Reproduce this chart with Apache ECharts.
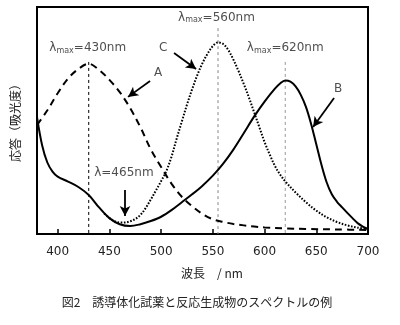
<!DOCTYPE html>
<html><head><meta charset="utf-8">
<script src="https://cdn.jsdelivr.net/npm/echarts@6/dist/echarts.min.js"></script>
<style>html,body{margin:0;padding:0;background:#fff}#c{width:400px;height:325px}</style>
</head><body><div id="c"></div>
<script>
// ---- data ----
const xTicks = [400, 450, 500, 550, 600, 650, 700];
const curveA = [[380,48],[390,54.5],[400,62],[410,68.5],[420,72.7],[430,75],[440,72.3],[450,67.9],[460,62.5],[470,55.5],[480,47],[490,37.3],[500,29.5],[510,22.2],[520,16.4],[530,12.2],[540,8.8],[550,6.5],[560,5.3],[570,4.4],[580,3.8],[590,3.3],[600,2.9],[620,2.5],[640,2.2],[670,2.0],[700,1.8]];
const curveB = [[380,51.5],[385,39],[390,31.5],[395,27.5],[400,25.3],[410,23.1],[420,20.7],[430,17.2],[440,11.7],[450,7],[460,4.3],[470,3.5],[480,4.3],[490,5.7],[500,7.6],[510,10.5],[520,14],[530,17.5],[540,21.3],[550,25.7],[560,31],[570,37.3],[580,44.5],[590,51.8],[600,58.3],[610,64],[615,66.3],[620,67.6],[625,67.1],[630,65],[635,61.3],[640,56],[645,48.5],[650,39.5],[655,30.5],[660,22.8],[665,17.5],[670,14.2],[675,11.7],[680,9.3],[685,7],[690,4.8],[695,3.3],[700,2.2]];
const curveC = [[445,9],[450,7],[455,5.6],[460,5.1],[465,5.1],[470,5.6],[475,6.6],[480,8.4],[485,11.4],[490,15.2],[495,19.2],[500,23.3],[505,27.7],[510,34],[515,42],[520,49.5],[525,57],[530,63.8],[535,70],[540,75.3],[545,79.5],[550,82.8],[555,84.4],[560,83.7],[565,81],[570,76.7],[575,71.6],[580,66],[585,60],[590,53.5],[595,47],[600,40.5],[605,35],[610,30],[615,26.2],[620,23.2],[630,18.3],[640,14],[650,10.3],[660,7.4],[670,5.3],[680,3.8],[690,2.8],[700,2.2]];
const guideX = [430, 555, 620];
const guideTop = [75.8, 90.7, 75.8];
const peakLabels = ['430nm', '560nm', '620nm'];
const peakLabelPos = [[429, 81.9], [553.5, 95.2], [620, 81.9]];
const minLabel = '465nm';
const minLabelPos = [464, 26.9];
const curveNames = ['A', 'B', 'C'];
const curveNamePos = [[497, 70.9], [671, 63.9], [502, 81.9]];
const arrows = [
  [[489.3, 67.4], [468, 60.4]],
  [[667.2, 59.9], [646.9, 47.1]],
  [[512.5, 79.7], [533.8, 72.7]],
  [[465.1, 19.4], [465.1, 7.9]]
];
const xName = '波長\u3000/ nm';
const yName = '応答（吸光度）';
const caption = '図2\u3000誘導体化試薬と反応生成物のスペクトルの例';

// ---- chart ----
const FONT = '"DejaVu Sans", "Noto Sans CJK JP", sans-serif';
const CJK = '"Noto Sans CJK JP", "DejaVu Sans", sans-serif';
const chart = echarts.init(document.getElementById('c'), null, {renderer: 'canvas'});
const rich = {
  l: {fontSize: 12, fontFamily: FONT, color: '#222'},
  s: {fontSize: 8, fontFamily: FONT, color: '#222', verticalAlign: 'bottom', padding: [5, 0, 0, 0]},
  n: {fontSize: 12, fontFamily: FONT, color: '#222'}
};
const labelData = [];
peakLabels.forEach((t, i) => labelData.push({value: peakLabelPos[i], label: {formatter: '{l|λ}{s|max}{n|=' + t + '}'}}));
labelData.push({value: minLabelPos, label: {formatter: '{n|λ=' + minLabel + '}'}});
curveNames.forEach((t, i) => labelData.push({value: curveNamePos[i], label: {formatter: '{n|' + t + '}'}}));

const guideStyles = [
  {color: '#000', width: 1, type: [3, 3]},
  {color: '#888', width: 1, type: [3, 3]},
  {color: '#999', width: 1, type: [3, 3]}
];
const guideSeries = guideX.map((x, i) => ({
  type: 'line', data: [[x, guideTop[i]], [x, 0]], symbol: 'none', silent: true,
  lineStyle: guideStyles[i], z: 1
}));

chart.setOption({
  animation: false,
  grid: {left: 37, right: 32, top: 7, bottom: 91, show: true, borderColor: '#000', borderWidth: 2, backgroundColor: 'transparent'},
  xAxis: {
    type: 'value', min: 380, max: 700,
    axisLine: {show: true, lineStyle: {color: '#000', width: 2}},
    axisTick: {show: true, inside: true, length: 5, customValues: xTicks, lineStyle: {color: '#000', width: 1.5}},
    axisLabel: {customValues: xTicks, color: '#222', fontSize: 12, fontFamily: FONT, margin: 12},
    splitLine: {show: false}
  },
  yAxis: {
    type: 'value', min: 0, max: 100,
    axisLine: {show: true, lineStyle: {color: '#000', width: 2}},
    axisTick: {show: false}, axisLabel: {show: false}, splitLine: {show: false}
  },
  series: [
    ...guideSeries,
    {type: 'line', data: curveA, smooth: 0.35, symbol: 'none', z: 3,
     lineStyle: {color: '#000', width: 2, type: [7, 5]}},
    {type: 'line', data: curveC, smooth: 0.35, symbol: 'none', z: 3,
     lineStyle: {color: '#000', width: 2, type: [1.6, 1.6]}},
    {type: 'line', data: curveB, smooth: 0.35, symbol: 'none', z: 4,
     lineStyle: {color: '#000', width: 2}},
    {type: 'scatter', data: labelData, symbolSize: 0, z: 5, silent: true,
     label: {show: true, position: 'inside', rich: rich, color: '#222'},
     markLine: {
       silent: true, animation: false, symbol: ['none', 'arrow'], symbolSize: [8, 10],
       label: {show: false},
       lineStyle: {color: '#000', width: 1.8, type: 'solid'},
       data: arrows.map(a => [{coord: a[0]}, {coord: a[1]}])
     }}
  ],
  graphic: [
    {type: 'text', x: 212, y: 273, style: {text: xName, font: '12px ' + CJK, fill: '#222', textAlign: 'center', textVerticalAlign: 'middle'}},
    {type: 'text', x: 15, y: 120, rotation: Math.PI / 2, style: {text: yName, font: '12px ' + CJK, fill: '#222', textAlign: 'center', textVerticalAlign: 'middle'}},
    {type: 'text', x: 197, y: 302, style: {text: caption, font: '12px ' + CJK, fill: '#222', textAlign: 'center', textVerticalAlign: 'middle'}}
  ]
});
</script>
</body></html>
